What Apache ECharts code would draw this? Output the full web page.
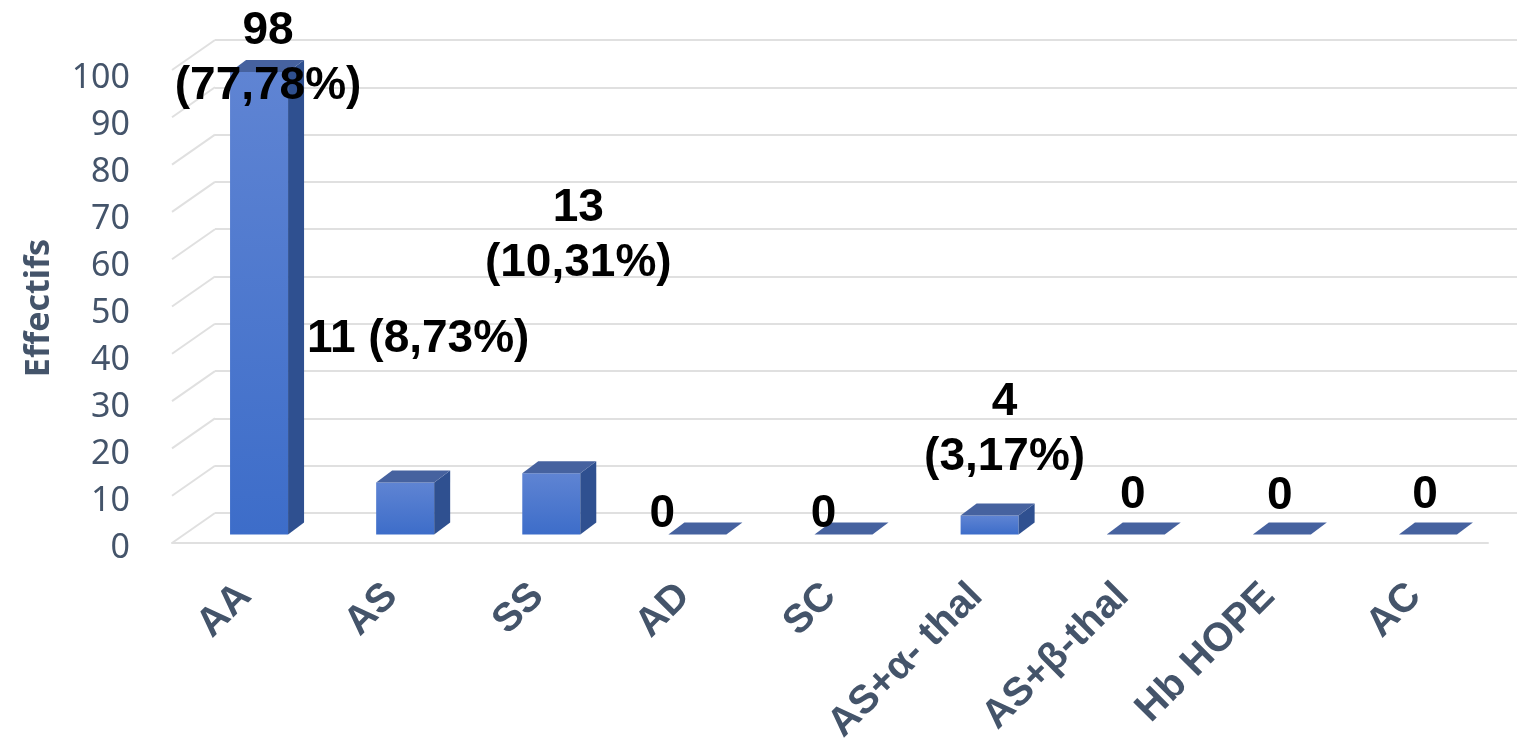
<!DOCTYPE html>
<html>
<head>
<meta charset="utf-8">
<title>Effectifs</title>
<script src="https://cdn.jsdelivr.net/npm/echarts@6/dist/echarts.min.js"></script>
<style>
  html, body { margin: 0; padding: 0; background: #fff; }
  #chart { width: 1517px; height: 747px; }
</style>
</head>
<body>
<div id="chart"></div>
<script>
// données
const categories = ['AA', 'AS', 'SS', 'AD', 'SC', 'AS+α- thal', 'AS+β-thal', 'Hb HOPE', 'AC'];
const counts = [98, 11, 13, 0, 0, 4, 0, 0, 0];
const percents = ['77,78', '8,73', '10,31', '', '', '3,17', '', '', ''];
const yTicks = [0, 10, 20, 30, 40, 50, 60, 70, 80, 90, 100];

// placement des étiquettes (décalage px depuis le haut de la face avant)
const labelShift = [
  [9, -13, 2], [13, -143, 1], [27, -237, 2], [-35, -20, 0], [-20, -20, 0],
  [15, -86, 2], [-3, -39, 0], [-2, -38, 0], [-3, -39, 0]
];

const txtColor = '#44546A';
const gridColor = '#e0e0e0';
const depth = [16, -12];     // profondeur des barres
const floorDepth = [-43, 30]; // profondeur du sol

function labelText(i) {
  if (!percents[i]) return String(counts[i]);
  const sep = labelShift[i][2] === 1 ? ' ' : '\n';
  return counts[i] + sep + '(' + percents[i] + '%)';
}

let myChart = echarts.init(document.getElementById('chart'));

let option = {
  animation: false,
  grid: [
    // mur du fond
    { left: 215, right: 0, top: 40, bottom: 234 },
    // plan avant (axes, étiquettes)
    { left: 172, right: 29, top: 73, bottom: 204 },
    // plan des barres
    { left: 186, right: 16, top: 62.5, bottom: 212.5 }
  ],
  xAxis: [
    { type: 'category', gridIndex: 0, data: categories, show: false },
    {
      type: 'category', gridIndex: 1, data: categories,
      axisLine: { show: true, lineStyle: { color: gridColor, width: 2 } },
      axisTick: { show: false },
      axisLabel: {
        interval: 0, rotate: 45, margin: 47,
        color: txtColor, fontSize: 40, fontWeight: 'bold',
        fontFamily: '"Liberation Sans", Arial, sans-serif'
      }
    },
    { type: 'category', gridIndex: 2, data: categories, show: false }
  ],
  yAxis: [
    {
      type: 'value', gridIndex: 0, min: 0, max: 100, interval: 10,
      axisLine: { show: false }, axisTick: { show: false }, axisLabel: { show: false },
      splitLine: { lineStyle: { color: gridColor, width: 2 } }
    },
    {
      type: 'value', gridIndex: 1, min: 0, max: 100, interval: 10,
      name: 'Effectifs', nameLocation: 'middle', nameGap: 116,
      nameTextStyle: { color: txtColor, fontSize: 34, fontWeight: 'bold', fontFamily: '"Noto Sans", sans-serif' },
      axisLine: { show: false }, axisTick: { show: false }, splitLine: { show: false },
      axisLabel: {
        margin: 42,
        formatter: v => '{n|' + v + '}',
        rich: {
          n: { padding: [10, 0, 0, 0], color: txtColor, fontSize: 34, fontFamily: '"Noto Sans", sans-serif' }
        }
      }
    },
    { type: 'value', gridIndex: 2, min: 0, max: 100, show: false, splitLine: { show: false } }
  ],
  series: [
    {
      // diagonales du sol/mur gauche
      type: 'custom', xAxisIndex: 0, yAxisIndex: 0, silent: true,
      data: yTicks.map(v => [0, v]),
      renderItem(params, api) {
        const p = api.coord([0, api.value(1)]);
        const x0 = params.coordSys.x;
        return {
          type: 'line',
          shape: { x1: x0, y1: p[1], x2: x0 + floorDepth[0], y2: p[1] + floorDepth[1] },
          style: { stroke: gridColor, lineWidth: 2 }
        };
      }
    },
    {
      // barres 3D
      type: 'custom', xAxisIndex: 2, yAxisIndex: 2, silent: true,
      data: counts.map((v, i) => [i, v]),
      renderItem(params, api) {
        const i = api.value(0);
        const v = api.value(1);
        const p0 = api.coord([i, 0]);
        const p1 = api.coord([i, v]);
        const band = api.size([1, 0])[0];
        const w = band * 0.397;
        const xl = p0[0] - w / 2, xr = p0[0] + w / 2;
        const yb = p0[1], yt = p1[1];
        const dx = depth[0], dy = depth[1];
        const kids = [];
        if (v > 0) {
          kids.push({
            type: 'rect',
            shape: { x: xl, y: yt, width: w, height: yb - yt },
            style: {
              fill: new echarts.graphic.LinearGradient(0, 0, 0, 1, [
                { offset: 0, color: '#5f84d3' },
                { offset: 1, color: '#3d6dc9' }
              ])
            }
          });
          kids.push({
            type: 'polygon',
            shape: { points: [[xr, yt], [xr + dx, yt + dy], [xr + dx, yb + dy], [xr, yb]] },
            style: { fill: '#2f5090' }
          });
        }
        kids.push({
          type: 'polygon',
          shape: { points: [[xl, yt], [xl + dx, yt + dy], [xr + dx, yt + dy], [xr, yt]] },
          style: { fill: '#46629f' }
        });
        const s = labelShift[i];
        kids.push({
          type: 'text', z2: 100,
          style: {
            text: labelText(i),
            x: p0[0] + s[0], y: yt + s[1],
            align: 'center', verticalAlign: 'middle',
            fill: '#000', lineHeight: 55,
            font: 'bold 46px "Liberation Sans", Arial, sans-serif'
          }
        });
        return { type: 'group', children: kids };
      }
    }
  ]
};

myChart.setOption(option, true);
window.addEventListener('resize', () => {
  myChart.resize();
});
</script>
</body>
</html>
